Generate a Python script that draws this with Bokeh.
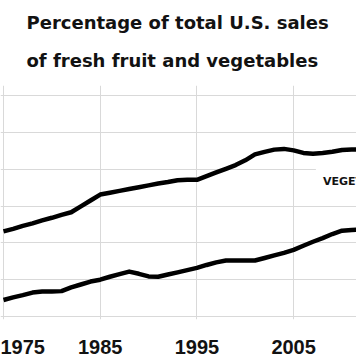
from bokeh.plotting import figure
from bokeh.models import Range1d, FixedTicker, Label, Title
from bokeh.embed import file_html
from bokeh.resources import INLINE

years = list(range(1975, 2013))
upper = [23.1, 23.8, 24.6, 25.3, 26.1, 26.8, 27.6, 28.3, 29.9, 31.5,
         33.1, 33.6, 34.1, 34.6, 35.1, 35.6, 36.1, 36.5, 37.0, 37.1,
         37.1, 38.1, 39.1, 40.1, 41.1, 42.4, 44.0, 44.7, 45.3, 45.5,
         45.1, 44.4, 44.2, 44.4, 44.7, 45.2, 45.3, 45.3]
lower = [4.5, 5.2, 5.8, 6.5, 6.8, 6.8, 6.9, 7.9, 8.7, 9.5,
         10.0, 10.8, 11.5, 12.2, 11.6, 10.9, 10.8, 11.4, 12.0, 12.6,
         13.2, 14.0, 14.7, 15.2, 15.2, 15.2, 15.2, 15.9, 16.6, 17.3,
         18.1, 19.2, 20.3, 21.3, 22.4, 23.3, 23.5, 23.6]
x_ticks = [1975, 1985, 1995, 2005]
y_ticks = [0, 10, 20, 30, 40, 50, 60]
title_lines = ["Percentage of total U.S. sales", "of fresh fruit and vegetables"]
label_text = "VEGETABLES"

p = figure(width=356, height=364, output_backend="svg", toolbar_location=None,
           x_range=Range1d(1974.69, 2011.5), y_range=Range1d(-0.8, 62.7),
           min_border_left=0, min_border_right=0, min_border_top=85,
           min_border_bottom=45)
p.outline_line_color = None
p.background_fill_color = "white"

t2 = Title(text=title_lines[1], text_font="DejaVu Sans", text_font_size="18px",
           text_font_style="bold", text_color="#121212", align="left", offset=26,
           standoff=30)
t1 = Title(text=title_lines[0], text_font="DejaVu Sans", text_font_size="18px",
           text_font_style="bold", text_color="#121212", align="left", offset=26,
           standoff=0)
p.add_layout(t2, "above")
p.add_layout(t1, "above")

p.line(years, upper, line_width=4.5, line_color="#000000", line_join="round")
p.line(years, lower, line_width=4.5, line_color="#000000", line_join="round")

p.xgrid.ticker = FixedTicker(ticks=x_ticks)
p.ygrid.ticker = FixedTicker(ticks=y_ticks)
p.xgrid.grid_line_color = "#d9d9d9"
p.ygrid.grid_line_color = "#d9d9d9"

p.yaxis.visible = False
p.xaxis.ticker = FixedTicker(ticks=x_ticks)
p.xaxis.axis_line_color = None
p.xaxis.major_tick_line_color = None
p.xaxis.minor_tick_line_color = None
p.xaxis.major_tick_out = 0
p.xaxis.major_tick_in = 0
p.xaxis.major_label_standoff = 20
p.xaxis.major_label_text_font = "Liberation Sans"
p.xaxis.major_label_text_font_size = "20px"
p.xaxis.major_label_text_font_style = "bold"
p.xaxis.major_label_text_color = "#121212"

lab = Label(x=2007.3, y=36.7, text=label_text, text_font="DejaVu Sans",
            text_font_size="11px", text_font_style="bold", text_color="#121212",
            background_fill_color="white", padding=7, text_baseline="alphabetic")
p.add_layout(lab)

open("out.html", "w").write(file_html(p, INLINE))
